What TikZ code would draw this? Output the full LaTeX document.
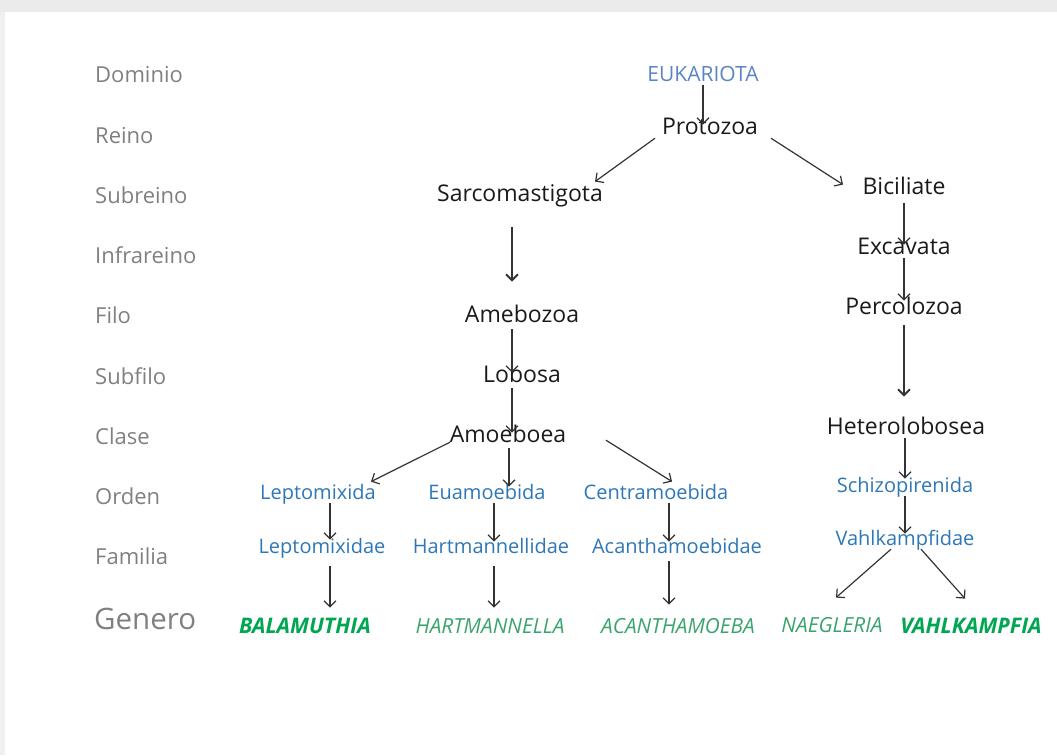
\documentclass[tikz,border=0pt]{standalone}
\usepackage{fontspec}
\setmainfont{Open Sans}
\usepackage{tikz}
\usetikzlibrary{arrows.meta, positioning}
\definecolor{labgrey}{HTML}{808080}
\definecolor{inkblack}{HTML}{1A1A1A}
\definecolor{eukblue}{HTML}{5B84C4}
\definecolor{ordblue}{HTML}{2E77B6}
\definecolor{genbold}{HTML}{00A651}
\definecolor{genital}{HTML}{3AA46C}
\definecolor{arrowgrey}{HTML}{333333}
\tikzstyle{rank} = [anchor=base west, inner sep=0pt, text=labgrey, font=\fontsize{22}{26}\selectfont]
\tikzstyle{taxon} = [anchor=base, inner sep=2pt, text height=0.72em, text depth=0.2em, text=inkblack, font=\fontsize{23}{27}\selectfont]
\tikzstyle{sub} = [taxon, text=ordblue, font=\fontsize{20}{24}\selectfont]
\tikzstyle{genus} = [taxon, text=genital, font=\fontsize{20.8}{24}\selectfont\itshape]
\tikzstyle{genusb} = [genus, text=genbold, font=\fontsize{21.5}{24}\selectfont\itshape\bfseries]
\tikzstyle{aro} = [-{Straight Barb[length=6pt,width=12pt]}, draw=arrowgrey, line width=1.2pt]
\tikzstyle{bigaro} = [aro, line width=1.9pt]

\begin{document}
\begin{tikzpicture}[x=1pt, y=-1pt]

  \useasboundingbox (0,0) rectangle (1057,755);
  \fill[black!8] (0,0) rectangle (1057,12);
  \fill[black!6] (0,12) rectangle (5,755);

  % rank labels on the left
  \foreach \nm/\yy/\txt in {dom/82/Dominio, rei/143/Reino, sre/203/Subreino,
      ire/263/Infrareino, fil/323/Filo, sfi/384/Subfilo, cla/444/Clase,
      ord/504/Orden, fam/564/Familia}
    \node (\nm) [rank] at (95,\yy) {\txt};
  \node (gen) [rank, font=\fontsize{29.5}{33}\selectfont] at (94,629) {Genero};

  % top of the tree
  \node (euk)   [taxon, text=eukblue, font=\fontsize{21}{25}\selectfont] at (703,81) {EUKARIOTA};
  \node (proto) [taxon] at (710,134) {Protozoa};
  \node (sarco) [taxon] at (520,201) {Sarcomastigota};
  \node (bicil) [taxon] at (904,194) {Biciliate};

  % amoebozoa branch
  \node (amebo)  [taxon] at (522,322) {Amebozoa};
  \node (lobosa) [taxon] at (522,382) {Lobosa};
  \node (amoeb)  [taxon] at (508,442) {Amoeboea};

  \node (lepto)  [sub] at (318,499) {Leptomixida};
  \node (euamo)  [sub] at (487,499) {Euamoebida};
  \node (centra) [sub] at (656,499) {Centramoebida};

  \node (leptoF) [sub] at (322,553) {Leptomixidae};
  \node (hartF)  [sub] at (491,553) {Hartmannellidae};
  \node (acanF)  [sub] at (677,553) {Acanthamoebidae};

  \node (bala) [genusb] at (305,633) {BALAMUTHIA};
  \node (hart) [genus]  at (490,633) {HARTMANNELLA};
  \node (acan) [genus]  at (678,633) {ACANTHAMOEBA};

  % excavata branch
  \node (excav)  [taxon] at (904,254) {Excavata};
  \node (percol) [taxon] at (904,314) {Percolozoa};
  \node (hetero) [taxon] at (906,434) {Heterolobosea};
  \node (schizo) [sub] at (905,492) {Schizopirenida};
  \node (vahlF)  [sub] at (905,545) {Vahlkampfidae};

  \node (naeg) [genus]  at (832,632) {NAEGLERIA};
  \node (vahl) [genusb] at (971,633) {VAHLKAMPFIA};

  % connectors
  \draw [aro] (euk.south) -- (euk.south |- proto.north);
  \draw [aro] ([xshift=-55pt]proto.south) -- ([xshift=75pt,yshift=10pt]sarco.north);
  \draw [aro] ([xshift=61pt]proto.south) -- ([xshift=-61pt]bicil.north);

  \draw [bigaro, shorten <=22pt, shorten >=31pt] ([xshift=-8pt]sarco.south) -- ([xshift=-10pt]amebo.north);
  \draw [aro, shorten <=3pt] ([xshift=-10pt]amebo.south) -- ([xshift=-10pt]lobosa.north);
  \draw [aro, shorten <=2pt] ([xshift=-10pt]lobosa.south) -- ([xshift=-10pt]lobosa.south |- amoeb.north);

  \draw [aro] ([xshift=-58pt,yshift=4pt]amoeb.south) -- ([xshift=53pt,yshift=8pt]lepto.north);
  \draw [aro, shorten <=2pt, shorten >=3pt] ([xshift=1pt]amoeb.south) -- ([xshift=1pt]amoeb.south |- euamo.north);
  \draw [aro] ([xshift=98pt,yshift=6pt]amoeb.south) -- ([xshift=16pt,yshift=8pt]centra.north);

  \draw [aro, shorten >=4pt] ([xshift=12pt]lepto.south) -- ([xshift=12pt]lepto.south |- leptoF.north);
  \draw [aro, shorten >=2pt] ([xshift=7pt]euamo.south) -- ([xshift=7pt]euamo.south |- hartF.north);
  \draw [aro, shorten >=2pt] ([xshift=13pt]centra.south) -- ([xshift=13pt]centra.south |- acanF.north);

  \draw [aro, shorten <=9pt, shorten >=16pt] ([xshift=8pt]leptoF.south) -- ([xshift=8pt]leptoF.south |- bala.north);
  \draw [aro, shorten <=9pt, shorten >=16pt] ([xshift=3pt]hartF.south) -- ([xshift=3pt]hartF.south |- hart.north);
  \draw [aro, shorten <=4pt, shorten >=19pt] ([xshift=-8pt]acanF.south) -- ([xshift=-8pt]acanF.south |- acan.north);

  \draw [aro, shorten <=5pt] (bicil.south) -- (excav.north);
  \draw [aro, shorten >=4pt] (excav.south) -- (percol.north);
  \draw [bigaro, shorten <=7pt, shorten >=28pt] (percol.south) -- (percol.south |- hetero.north);
  \draw [aro, shorten >=4pt] ([xshift=-1pt]hetero.south) -- (schizo.north);
  \draw [aro, shorten >=2pt] (schizo.south) -- (vahlF.north);

  \draw [aro] ([xshift=-14pt]vahlF.south) -- ([xshift=4pt,yshift=25pt]naeg.north);
  \draw [aro] ([xshift=16pt]vahlF.south) -- ([xshift=-6pt,yshift=25pt]vahl.north);

\end{tikzpicture}
\end{document}
